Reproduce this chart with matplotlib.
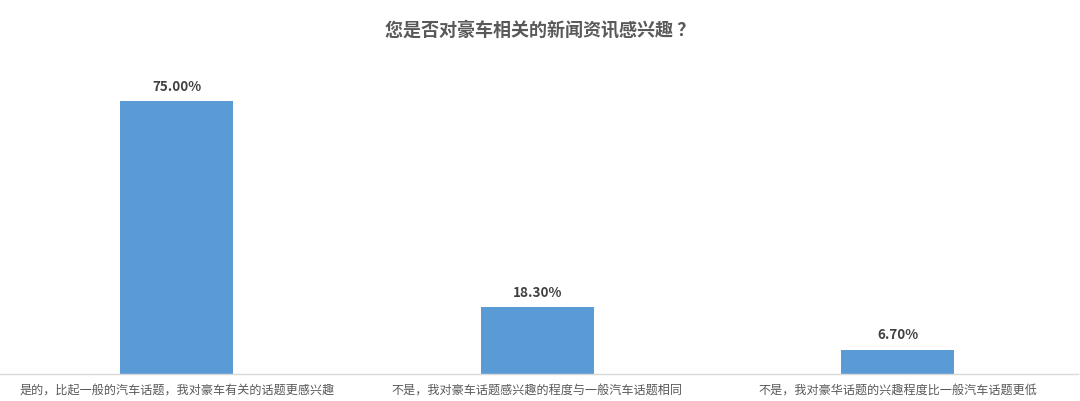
import matplotlib
matplotlib.use("Agg")
import matplotlib.pyplot as plt

plt.rcParams['font.family'] = ['Noto Sans CJK SC', 'DejaVu Sans']

title = "您是否对豪车相关的新闻资讯感兴趣 ？"
categories = ["是的，比起一般的汽车话题，我对豪车有关的话题更感兴趣",
              "不是，我对豪车话题感兴趣的程度与一般汽车话题相同",
              "不是，我对豪华话题的兴趣程度比一般汽车话题更低"]
values = [75.00, 18.30, 6.70]
value_labels = ["75.00%", "18.30%", "6.70%"]

W, H = 1080, 402
fig = plt.figure(figsize=(W / 100, H / 100), dpi=100)
left_px, right_px = -3.5, 1078
base_px = 375
top_px = 84
ax = fig.add_axes([left_px / W, 1 - base_px / H, (right_px - left_px) / W, (base_px - top_px) / H])

x = list(range(len(categories)))
ax.bar(x, values, width=0.313, color="#5B9BD5", zorder=2)
ax.set_xlim(-0.5, len(categories) - 0.5)
ax.set_ylim(0, 80)

for xi, v, lab in zip(x, values, value_labels):
    ax.annotate(lab, (xi, v), xytext=(0, 6), textcoords="offset points",
                ha="center", va="bottom", fontsize=9.7, fontweight="bold", color="#404040")

for s in ["top", "right", "left"]:
    ax.spines[s].set_visible(False)
ax.spines["bottom"].set_color("#D9D9D9")
ax.spines["bottom"].set_linewidth(1.0)
ax.set_yticks([])
ax.set_xticks(x)
ax.set_xticklabels(categories, fontsize=8.7, color="#595959")
ax.tick_params(axis="x", length=0, pad=6)

fig.text(0.5, 1 - 30 / H, title, ha="center", va="center", fontsize=13,
         fontweight="bold", color="#595959")

fig.savefig("out.png", dpi=100, facecolor="white")
